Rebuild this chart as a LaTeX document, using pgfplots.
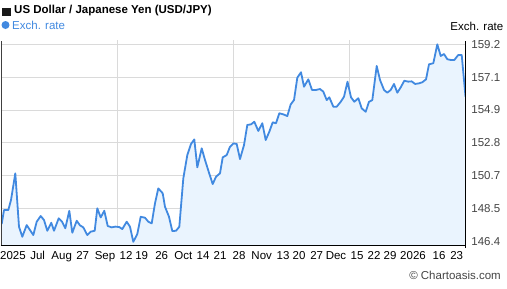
\documentclass[border=0pt]{standalone}
\usepackage{pgfplots}
\pgfplotsset{compat=1.18}
\usepackage{fontspec}
\setmainfont{Liberation Sans}
\definecolor{linec}{HTML}{4189E0}
\definecolor{fillc}{HTML}{EAF4FE}
\definecolor{gridc}{HTML}{DADADA}
\definecolor{labc}{HTML}{444444}
\begin{document}
\begin{tikzpicture}[x=1bp,y=1bp]
\begin{axis}[
  scale only axis,
  width=464.5bp, height=205bp,
  xmin=1, xmax=465.5, ymin=146.11, ymax=159.46,
  axis line style={draw=none},
  major tick length=0pt,
  font=\fontsize{11.5bp}{13bp}\selectfont,
  ytick={146.4,148.533,150.667,152.8,154.933,157.067,159.2},
  yticklabels={146.4,148.5,150.7,152.8,154.9,157.1,159.2},
  yticklabel pos=right,
  yticklabel style={text=labc, xshift=2.4bp},
  ymajorgrids,
  grid style={gridc, line width=0.8bp},
  xtick={13,37.7,61.7,82.7,105,126,141.7,161.7,183.3,203,220,239,261.7,283,299,316.7,336,357,374,390,413,439,456.7},
  xticklabels={2025,Jul,Aug,27,Sep,12,19,26,Oct,14,21,28,Nov,13,20,27,Dec,15,22,29,2026,16,23},
  xticklabel style={text height=8.5bp, text depth=2.5bp, yshift=-2bp},
  extra x ticks={117.7,233.3,349.3},
  extra x tick labels={},
  extra x tick style={xmajorgrids=true, grid style={gridc, line width=0.8bp}},
  clip=true,
]
\addplot[fill=fillc, draw=none] coordinates {
(1.7,147.51)(4,148.42)(8.3,148.42)(11,149.07)(15.3,150.81)(19,147.33)(22.3,146.68)(26.7,147.44)(33.3,146.79)(36.7,147.66)
(40.7,148.03)(44,147.77)(47.3,147.07)(51.3,147.59)(54,147.07)(58.7,147.88)(62,147.66)(65.3,147.23)(69.3,148.37)(72.3,146.94)
(76.7,147.72)(80,147.42)(83.3,147.29)(87.3,146.79)(90.7,147.01)(94.7,147.07)(97.3,148.53)(100.7,147.94)(104.3,148.37)(107.7,147.38)
(111.7,147.29)(115.3,147.34)(119.3,147.31)(122.3,147.18)(126.7,147.66)(130,147.33)(133.3,146.35)(137.3,146.86)(140.7,147.98)(145,147.92)
(148.3,147.66)(151.7,147.55)(155,148.86)(158.3,149.83)(162.7,149.51)(165,148.63)(169,147.98)(172.3,147.05)(176,147.07)(179.3,147.33)
(183.3,150.48)(187.3,152.00)(191,152.72)(194.3,153.02)(197.3,151.20)(201.7,152.44)(205,151.68)(209,150.85)(212.7,150.11)(216,150.59)
(220,150.81)(222.7,151.85)(226.7,152.00)(230,152.54)(233.5,152.76)(236.7,152.72)(240,151.74)(244,152.65)(247.3,153.96)(251,154.00)
(254.3,154.17)(258.3,153.57)(262.3,154.07)(265.7,152.98)(269.3,153.52)(272.7,154.13)(276,154.07)(279.3,154.72)(283.3,154.65)(287.3,154.54)
(290.7,155.30)(294,155.58)(297.3,157.04)(301,157.39)(304,156.45)(308.3,156.93)(312,156.24)(316,156.24)(320,156.30)(323.3,156.13)
(326.7,155.58)(329.3,155.76)(333.3,155.15)(336.7,155.15)(340.7,155.47)(344,155.80)(347.5,156.78)(351,155.76)(354.3,155.47)(358.3,155.70)
(361.7,155.04)(365.7,154.82)(369,155.47)(372.3,155.58)(376.7,157.80)(380,156.89)(384,156.24)(387.3,156.06)(390.7,156.24)(394,156.63)
(397.3,156.06)(400.7,156.41)(404.3,156.84)(408.3,156.78)(411.7,156.80)(415,156.63)(419,156.67)(422.3,156.74)(426,156.93)(429,157.91)
(433.3,157.98)(437.3,159.21)(440.7,158.45)(444,158.58)(447.3,158.24)(451,158.19)(454.3,158.19)(458.3,158.52)(461.7,158.52)(465.5,155.80)
} \closedcycle;
\addplot[linec, line width=1.8bp, line join=round] coordinates {
(1.7,147.51)(4,148.42)(8.3,148.42)(11,149.07)(15.3,150.81)(19,147.33)(22.3,146.68)(26.7,147.44)(33.3,146.79)(36.7,147.66)
(40.7,148.03)(44,147.77)(47.3,147.07)(51.3,147.59)(54,147.07)(58.7,147.88)(62,147.66)(65.3,147.23)(69.3,148.37)(72.3,146.94)
(76.7,147.72)(80,147.42)(83.3,147.29)(87.3,146.79)(90.7,147.01)(94.7,147.07)(97.3,148.53)(100.7,147.94)(104.3,148.37)(107.7,147.38)
(111.7,147.29)(115.3,147.34)(119.3,147.31)(122.3,147.18)(126.7,147.66)(130,147.33)(133.3,146.35)(137.3,146.86)(140.7,147.98)(145,147.92)
(148.3,147.66)(151.7,147.55)(155,148.86)(158.3,149.83)(162.7,149.51)(165,148.63)(169,147.98)(172.3,147.05)(176,147.07)(179.3,147.33)
(183.3,150.48)(187.3,152.00)(191,152.72)(194.3,153.02)(197.3,151.20)(201.7,152.44)(205,151.68)(209,150.85)(212.7,150.11)(216,150.59)
(220,150.81)(222.7,151.85)(226.7,152.00)(230,152.54)(233.5,152.76)(236.7,152.72)(240,151.74)(244,152.65)(247.3,153.96)(251,154.00)
(254.3,154.17)(258.3,153.57)(262.3,154.07)(265.7,152.98)(269.3,153.52)(272.7,154.13)(276,154.07)(279.3,154.72)(283.3,154.65)(287.3,154.54)
(290.7,155.30)(294,155.58)(297.3,157.04)(301,157.39)(304,156.45)(308.3,156.93)(312,156.24)(316,156.24)(320,156.30)(323.3,156.13)
(326.7,155.58)(329.3,155.76)(333.3,155.15)(336.7,155.15)(340.7,155.47)(344,155.80)(347.5,156.78)(351,155.76)(354.3,155.47)(358.3,155.70)
(361.7,155.04)(365.7,154.82)(369,155.47)(372.3,155.58)(376.7,157.80)(380,156.89)(384,156.24)(387.3,156.06)(390.7,156.24)(394,156.63)
(397.3,156.06)(400.7,156.41)(404.3,156.84)(408.3,156.78)(411.7,156.80)(415,156.63)(419,156.67)(422.3,156.74)(426,156.93)(429,157.91)
(433.3,157.98)(437.3,159.21)(440.7,158.45)(444,158.58)(447.3,158.24)(451,158.19)(454.3,158.19)(458.3,158.52)(461.7,158.52)(465.5,155.80)
};
\coordinate (O) at (rel axis cs:0,0);
\end{axis}
\begin{scope}[shift={(O)}, xshift=-1bp, yshift=-42.5bp]
% frame lines
\draw[black!75, line width=0.8bp] (1,42.5) -- (1,247.5);
\draw[black, line width=1.3bp] (0.5,42.5) -- (466.2,42.5);
\draw[black, line width=1.5bp] (465.5,40) -- (465.5,247.5);
% title and legend
\fill[black!90] (2,272) rectangle (10.5,280.5);
\node[anchor=west, inner sep=0pt, font=\fontsize{11.5bp}{13bp}\selectfont\bfseries] at (14,277) {US Dollar / Japanese Yen (USD/JPY)};
\fill[linec] (5.5,263) circle (4);
\node[anchor=west, inner sep=0pt, text=linec, font=\fontsize{11.5bp}{13bp}\selectfont] at (12,263) {Exch. rate};
\node[anchor=east, inner sep=0pt, font=\fontsize{11.5bp}{13bp}\selectfont] at (503.5,261.3) {Exch. rate};
\node[anchor=east, inner sep=0pt, text=labc, font=\fontsize{11.5bp}{13bp}\selectfont] at (501,13) {\textcopyright{} Chartoasis.com};
\end{scope}
\pgfresetboundingbox
\begin{scope}[shift={(O)}, xshift=-1bp, yshift=-42.5bp]
\path[use as bounding box] (0,0) rectangle (507,288);
\end{scope}
\end{tikzpicture}
\end{document}
